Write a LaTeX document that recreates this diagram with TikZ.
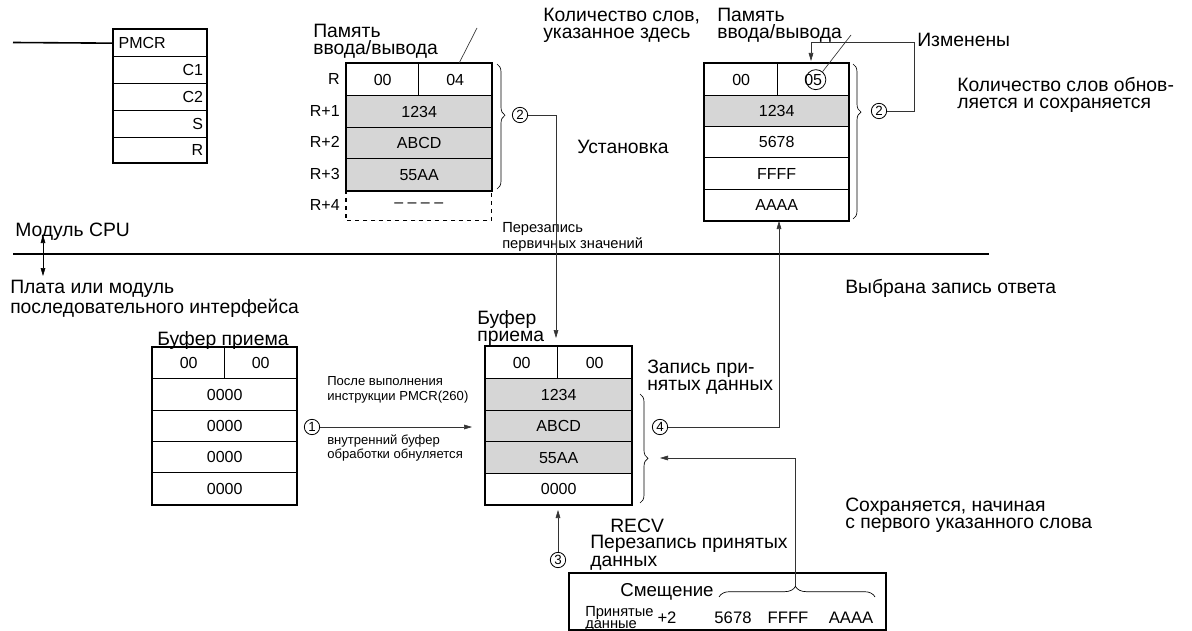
\documentclass[tikz,border=0pt]{standalone}
\usepackage{fontspec}
\setmainfont{Liberation Sans}
\usetikzlibrary{arrows.meta,decorations.pathreplacing}
\newcommand\mainsize{\fontsize{14.5}{12.8}\selectfont}
\newcommand\cellsize{\fontsize{12}{14}\selectfont}
\newcommand\smallsize{\fontsize{9.8}{11.2}\selectfont}
\newcommand\midsize{\fontsize{11}{9.8}\selectfont}
\newcommand\boxsize{\fontsize{12.5}{9}\selectfont}
\newcommand\pdsize{\fontsize{11}{9}\selectfont}
\begin{document}
\begin{tikzpicture}[x=0.75pt,y=-0.75pt,
  cell/.style 2 args={draw,line width=1pt,anchor=north west,inner sep=0pt,
     minimum width=#1*0.75pt,minimum height=#2*0.75pt,font=\cellsize},
  grayfill/.style={fill=black!16},
  lbl/.style={anchor=west,inner sep=0pt,align=left,font=\mainsize},
  sml/.style={anchor=west,inner sep=0pt,align=left,font=\smallsize},
  rlab/.style={anchor=east,inner sep=0pt,font=\cellsize},
  num/.style={draw,circle,line width=0.6pt,inner sep=0pt,minimum size=11.5pt,font=\fontsize{10}{10}\selectfont},
  conn/.style={line width=0.5pt,black!80},
  arr/.style={conn,-{Triangle[length=6pt,width=3.5pt]}},
  brc/.style={decorate,line width=0.5pt,decoration={brace,amplitude=6pt,aspect=#1}},
  outer/.style={line width=1.5pt},
]
\useasboundingbox (0,0) rectangle (1192,631);

% ---------- PMCR block ----------
\node[cell={93}{27}] (pm0) at (113,29) {};
\node[cell={93}{27}] (pm1) at (113,56) {};
\node[cell={93}{27}] (pm2) at (113,83) {};
\node[cell={93}{27}] (pm3) at (113,110) {};
\node[cell={93}{25}] (pm4) at (113,137) {};
\draw[outer] (pm0.north west) rectangle (pm4.south east);
\node[anchor=west,font=\cellsize,inner sep=0pt] (pmt0) at ([xshift=4]pm0.west) {PMCR};
\node[anchor=east,font=\cellsize,inner sep=0pt] (pmt1) at ([xshift=-3]pm1.east) {C1};
\node[anchor=east,font=\cellsize,inner sep=0pt] (pmt2) at ([xshift=-3]pm2.east) {C2};
\node[anchor=east,font=\cellsize,inner sep=0pt] (pmt3) at ([xshift=-3]pm3.east) {S};
\node[anchor=east,font=\cellsize,inner sep=0pt] (pmt4) at ([xshift=-3]pm4.east) {R};
\coordinate (pl) at (13,42.5);
\draw[line width=1.2pt] (pl) -- (pm0.west);

% ---------- I/O memory (left, top) ----------
\node[cell={72}{32}] (m1a) at (346,63) {00};
\node[cell={73}{32}] (m1b) at (418,63) {04};
\node[cell={145}{32},grayfill] (m1c) at (346,95) {1234};
\node[cell={145}{31},grayfill] (m1d) at (346,127) {ABCD};
\node[cell={145}{32},grayfill] (m1e) at (346,158) {55AA};
\node[anchor=north west,inner sep=0pt,minimum width=145*0.75pt,minimum height=30*0.75pt,font=\cellsize] (m1f) at (346,190) {– – – –};
\draw[dashed,line width=0.8pt] (m1f.north west) -- (m1f.south west) -- (m1f.south east) -- (m1f.north east);
\draw[outer] (m1a.north west) rectangle (m1e.south east);
\node[rlab] (r0) at (340,79) {R};
\node[rlab] (r1) at (340,111) {R+1};
\node[rlab] (r2) at (340,142) {R+2};
\node[rlab] (r3) at (340,174) {R+3};
\node[rlab] (r4) at (340,205) {R+4};
\node[lbl] (tm1) at (313,41) {Память\\ввода/вывода};
\coordinate (s1) at (477,28);
\draw[conn] ([xshift=3]m1b.north) -- (s1);
\draw[brc=0.41] (497,64) -- (497,189);
\node[num] (n2a) at (520,115) {2};

% ---------- I/O memory (right, top) ----------
\node[cell={73}{32}] (m2a) at (704,63) {00};
\node[cell={71}{32}] (m2b) at (777,63) {05};
\node[cell={144}{31},grayfill] (m2c) at (704,95) {1234};
\node[cell={144}{31}] (m2d) at (704,126) {5678};
\node[cell={144}{32}] (m2e) at (704,157) {FFFF};
\node[cell={144}{31}] (m2f) at (704,189) {AAAA};
\draw[outer] (m2a.north west) rectangle (m2f.south east);
\node[draw,circle,line width=0.6pt,inner sep=0pt,minimum size=15pt] (c05) at ([xshift=2]m2b.center) {};
\coordinate (s2) at (851,35);
\draw[conn] (c05.50) -- (s2);
\node[lbl] (tq) at (543,25) {Количество слов,\\указанное здесь};
\node[lbl] (tm2) at (717,25) {Память\\ввода/вывода};
\node[lbl] (tiz) at (917,40) {Изменены};
\node[lbl] (tkol) at (957,95) {Количество слов обнов-\\ляется и сохраняется};
\node[lbl] (tust) at (577,147) {Установка};
\draw[brc=0.31] (853,64) -- (853,219);
\node[num] (n2b) at (879,111) {2};
\coordinate (k1) at (914,42);
\coordinate (k2) at (811,42);
\coordinate (k3) at (811,61);
\draw[arr] (n2b.east) -| (k1) -- (k2) -- (k3);

% ---------- CPU boundary ----------
\coordinate (L1) at (13,254);
\coordinate (L2) at (989,254);
\draw[line width=1.3pt] (L1) -- (L2);
\node[lbl] (tcpu) at (15,232) {Модуль CPU};
\coordinate (d1) at (43,235);
\coordinate (d2) at (43,276);
\draw[conn,black,{Triangle[length=6pt,width=3.5pt]}-{Triangle[length=6pt,width=3.5pt]}] (d1) -- (d2);
\node[lbl] (tplata) at (10,299) {Плата или модуль\\последовательного интерфейса};
\node[anchor=west,inner sep=0pt,align=left,font=\midsize] (tper) at (502,237) {Перезапись\\первичных значений};
\node[lbl] (tvyb) at (845,288) {Выбрана запись ответа};

% ---------- left receive buffer ----------
\node[cell={72}{31}] (b1a) at (152,347) {00};
\node[cell={72}{31}] (b1b) at (224,347) {00};
\node[cell={144}{32}] (b1c) at (152,378) {0000};
\node[cell={144}{31}] (b1d) at (152,410) {0000};
\node[cell={144}{31}] (b1e) at (152,441) {0000};
\node[cell={144}{32}] (b1f) at (152,472) {0000};
\draw[outer] (b1a.north west) rectangle (b1f.south east);
\node[anchor=base west,inner sep=0pt,font=\mainsize] (tbuf1) at (157,345) {Буфер приема};

\node[sml] (tposle) at (327,390) {После выполнения\\инструкции PMCR(260)};
\node[sml] (tvnut) at (327,448) {внутренний буфер\\обработки обнуляется};
\node[num] (n1) at (312,427) {1};
\coordinate (a1) at (472,427);
\draw[arr] (n1.east) -- (a1);

% ---------- center receive buffer ----------
\node[cell={72}{32}] (b2a) at (485,346) {00};
\node[cell={74}{32}] (b2b) at (557,346) {00};
\node[cell={146}{32},grayfill] (b2c) at (485,378) {1234};
\node[cell={146}{31},grayfill] (b2d) at (485,410) {ABCD};
\node[cell={146}{32},grayfill] (b2e) at (485,441) {55AA};
\node[cell={146}{31}] (b2f) at (485,473) {0000};
\draw[outer] (b2a.north west) rectangle (b2f.south east);
\node[lbl] (tbuf2) at (477,328) {Буфер\\приема};
\coordinate (a2) at (556,338);
\draw[arr] (n2a.east) -| (a2);
\node[lbl] (tzap) at (647,377) {Запись при-\\нятых данных};
\draw[brc=0.59] (640,394) -- (640,503);
\node[num] (n4) at (660,427) {4};
\coordinate (a4) at (779,221);
\draw[arr] (n4.east) -| (a4);

% ---------- RECV ----------
\node[num] (n3) at (558,560) {3};
\coordinate (a3) at (558,510);
\draw[arr] (n3.north) -- (a3);
\node[anchor=base west,inner sep=0pt,font=\mainsize] (trecv) at (610,532) {RECV};
\node[anchor=base west,inner sep=0pt,align=left,font=\mainsize] (tperz) at (590,566) {Перезапись принятых\\данных};
\node[lbl] (tsohr) at (845,515) {Сохраняется, начиная\\с первого указанного слова};

\node[draw,outer,anchor=north west,inner sep=0pt,minimum width=317*0.75pt,minimum height=57*0.75pt] (rb) at (568,572) {};
\node[anchor=base west,inner sep=0pt,font=\fontsize{14}{14}\selectfont] (tsm) at (620,596) {Смещение};
\node[anchor=base west,inner sep=0pt,align=left,font=\pdsize] (tpd) at (585,628) {Принятые\\данные};
\node[anchor=base,inner sep=0pt,font=\boxsize] (tp2) at (667,623) {+2};
\node[anchor=base,inner sep=0pt,font=\boxsize] (td1) at (733,623) {5678};
\node[anchor=base,inner sep=0pt,font=\boxsize] (td2) at (788,623) {FFFF};
\node[anchor=base,inner sep=0pt,font=\boxsize] (td3) at (851,623) {AAAA};
\draw[decorate,line width=0.5pt,decoration={brace,amplitude=8pt,aspect=0.49}] (719,597) -- (875,597);
\coordinate (bt) at (795,586);
\coordinate (a5) at (660,458);
\draw[arr] (bt) |- (a5);
\end{tikzpicture}
\end{document}
